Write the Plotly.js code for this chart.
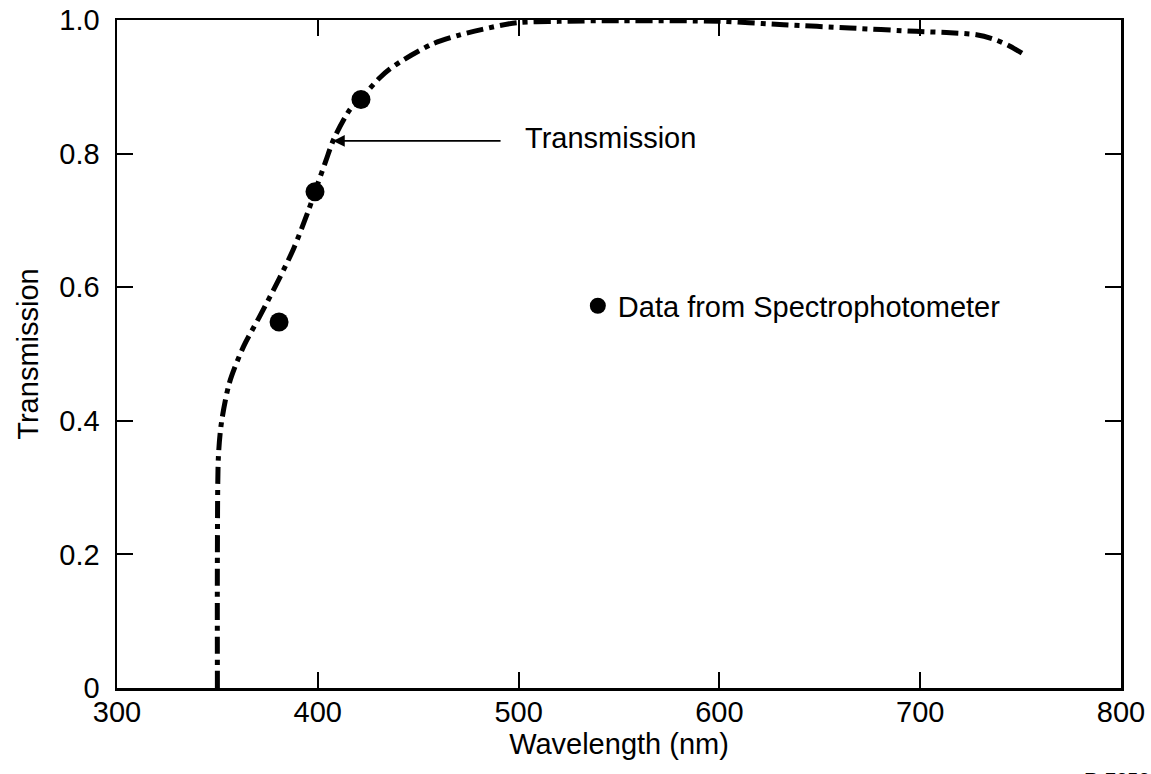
<!DOCTYPE html>
<html>
<head>
<meta charset="utf-8">
<script src="https://cdn.plot.ly/plotly-3.0.1.min.js"></script>
<style>html,body{margin:0;padding:0;background:#fff;}#chart{width:1151px;height:774px;}</style>
</head>
<body>
<div id="chart"></div>
<script>
// Transmission curve (wavelength nm, transmission)
const curveWavelength = [350, 350, 350.5, 352, 356, 363, 371, 381, 388, 395, 400, 404, 408, 416, 421, 424.5, 431, 436, 443, 457, 470, 482, 499, 520, 550, 600, 632, 665, 698, 715, 728, 736, 744, 752];
const curveTransmission = [0, 0.2, 0.346, 0.397, 0.457, 0.511, 0.556, 0.614, 0.658, 0.712, 0.755, 0.789, 0.822, 0.866, 0.882, 0.893, 0.914, 0.927, 0.941, 0.964, 0.977, 0.986, 0.996, 0.998, 0.999, 0.998, 0.993, 0.988, 0.983, 0.981, 0.978, 0.972, 0.962, 0.948];

// Spectrophotometer data points
const dataWavelength = [380.7, 398.6, 421.5];
const dataTransmission = [0.548, 0.743, 0.881];

const xTicks = [300, 400, 500, 600, 700, 800];
const xTickLabels = ['300', '400', '500', '600', '700', '800'];
const yTicks = [0, 0.2, 0.4, 0.6, 0.8, 1.0];
const yTickLabels = ['0', '0.2', '0.4', '0.6', '0.8', '1.0'];

const FONT = 'Liberation Sans, Arial, Helvetica, sans-serif';
const FS = 29;

const traces = [
  {
    x: curveWavelength, y: curveTransmission,
    type: 'scatter', mode: 'lines',
    line: {color: '#000', width: 5, dash: '17px,6px,5px,6px', shape: 'spline', smoothing: 0.8},
    showlegend: false, hoverinfo: 'skip', cliponaxis: false
  },
  {
    x: dataWavelength, y: dataTransmission,
    type: 'scatter', mode: 'markers',
    name: 'Data from Spectrophotometer',
    marker: {color: '#000', size: 19},
    showlegend: true, cliponaxis: false
  }
];

const axisCommon = {
  showline: true, linecolor: '#000', linewidth: 2.5, mirror: 'ticks',
  ticks: 'inside', ticklen: 16, tickwidth: 2, tickcolor: '#000',
  showgrid: false, zeroline: false,
  tickfont: {family: FONT, size: FS, color: '#000'}
};

const layout = {
  width: 1151, height: 774,
  margin: {l: 117, r: 30, t: 20, b: 86},
  paper_bgcolor: '#fff', plot_bgcolor: '#fff',
  font: {family: FONT, color: '#000'},
  xaxis: Object.assign({}, axisCommon, {
    range: [300, 800], tickmode: 'array', tickvals: xTicks, ticktext: xTickLabels,
    ticklabelstandoff: -3,
    title: {text: 'Wavelength (nm)', font: {family: FONT, size: FS, color: '#000'}, standoff: 0}
  }),
  yaxis: Object.assign({}, axisCommon, {
    range: [0, 1.0], tickmode: 'array', tickvals: yTicks, ticktext: yTickLabels,
    ticklabelstandoff: 9,
    title: {text: 'Transmission', font: {family: FONT, size: FS, color: '#000'}, standoff: 12}
  }),
  legend: {
    x: 0.459, y: 0.572, xanchor: 'left', yanchor: 'middle',
    bgcolor: 'rgba(0,0,0,0)', borderwidth: 0,
    font: {family: FONT, size: FS, color: '#000'}
  },
  annotations: [
    {
      x: 407.6, y: 0.819, xref: 'x', yref: 'y',
      text: '', showarrow: true, ax: 169, ay: 0,
      arrowhead: 2, arrowsize: 1.3, arrowwidth: 1.8, arrowcolor: '#000'
    },
    {
      x: 546, y: 0.824, xref: 'x', yref: 'y',
      text: 'Transmission', showarrow: false, xanchor: 'center', yanchor: 'middle',
      font: {family: FONT, size: FS, color: '#000'}
    },
    {
      x: (1082 - 117) / 1004, y: (688 - 767) / 668, xref: 'paper', yref: 'paper',
      text: 'R-7252', showarrow: false, xanchor: 'left', yanchor: 'top',
      font: {family: FONT, size: 20, color: '#000'}
    }
  ]
};

Plotly.newPlot('chart', traces, layout, {displayModeBar: false, staticPlot: true});
</script>
</body>
</html>
